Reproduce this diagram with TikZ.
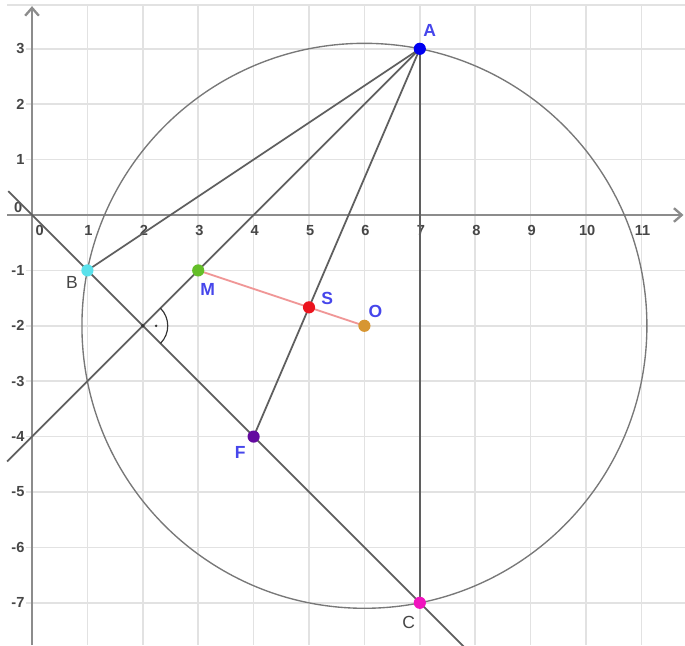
\documentclass[tikz,border=0pt]{standalone}
\usepackage{fontspec}
\setmainfont{Liberation Sans}
\usetikzlibrary{arrows.meta}
\definecolor{gridc}{RGB}{226,226,226}
\definecolor{axisc}{RGB}{140,140,140}
\definecolor{linec}{RGB}{95,95,95}
\definecolor{circc}{RGB}{120,120,120}
\definecolor{tickc}{RGB}{70,70,70}
\definecolor{lblblue}{RGB}{70,70,235}
\definecolor{ptA}{RGB}{0,0,240}
\definecolor{ptB}{RGB}{90,225,235}
\definecolor{ptC}{RGB}{240,20,190}
\definecolor{ptM}{RGB}{100,190,40}
\definecolor{ptS}{RGB}{235,20,30}
\definecolor{ptO}{RGB}{215,150,50}
\definecolor{ptF}{RGB}{100,10,160}
\definecolor{redseg}{RGB}{240,150,150}
\tikzset{
  gridline/.style={draw=gridc, line width=0.8pt},
  axisline/.style={draw=axisc, line width=1.2pt},
  geo/.style={draw=linec, line width=0.9pt},
  circ/.style={draw=circc, line width=0.7pt},
  ticklbl/.style={text=tickc, font=\fontsize{7.5}{8}\selectfont\bfseries, inner sep=0pt},
  dot/.style={circle, inner sep=0pt, minimum size=0.22cm},
  bluelbl/.style={text=lblblue, font=\fontsize{9}{10}\selectfont\bfseries, inner sep=0pt},
  graylbl/.style={text=tickc, font=\fontsize{9}{10}\selectfont, inner sep=0pt}
}
\begin{document}
\begin{tikzpicture}[x=1cm,y=1cm]
\useasboundingbox (-0.578,-7.762) rectangle (11.787,3.881);
\clip (-0.578,-7.762) rectangle (11.787,3.881);
% grid
\foreach \x in {1,...,11} \draw[gridline] (\x,-7.762) -- (\x,3.79);
\foreach \y in {-7,...,-1,1,2,3} \draw[gridline] (-0.1,\y) -- (11.787,\y);
\draw[gridline] (-0.45,3.79) -- (11.787,3.79);
% axes
\coordinate (xl) at (-0.45,0);
\coordinate (xr) at (11.76,0);
\coordinate (yb) at (0,-7.762);
\coordinate (yt) at (0,3.77);
\draw[axisline, -{Straight Barb[length=4pt,width=7pt]}] (xl) -- (xr);
\draw[axisline, -{Straight Barb[length=4pt,width=7pt]}] (yb) -- (yt);
% tick labels
\foreach \x in {1,...,11} \node[ticklbl] (tx\x) at (\x+0.02,-0.28) {\x};
\node[ticklbl] (tx0) at (0.14,-0.28) {0};
\node[ticklbl] (ty0) at (-0.25,0.13) {0};
\foreach \y in {1,2,3} \node[ticklbl, anchor=east] (ty\y) at (-0.13,\y) {\y};
\foreach \y in {1,...,7} \node[ticklbl, anchor=east] (tym\y) at (-0.13,-\y) {-\y};
% points
\coordinate (A) at (7,3);
\coordinate (B) at (1,-1);
\coordinate (C) at (7,-7);
\coordinate (M) at (3,-1);
\coordinate (O) at (6,-2);
\coordinate (S) at (5,-5/3);
\coordinate (F) at (4,-4);
\coordinate (P) at (2,-2);
\coordinate (L1) at (-0.45,-4.45);
\coordinate (L2) at (-0.43,0.43);
\coordinate (L3) at (7.9,-7.9);
% circle
\draw[circ] (O) circle ({sqrt(26)});
% lines
\draw[geo] (A) -- (B);
\draw[geo] (A) -- (L1);
\draw[geo] (A) -- (F);
\draw[geo] (A) -- (C);
\draw[geo] (L2) -- (L3);
\draw[draw=redseg, line width=0.9pt] (M) -- (O);
% right angle marker
\draw[draw=black!80, line width=0.6pt] (P) ++(-45:0.45) arc[start angle=-45, end angle=45, radius=0.45];
\fill[black!80] (P) ++(0.24,0) circle (0.025);
\fill[black!80] (P) circle (0.035);
% dots
\node[dot, fill=ptA] (dA) at (A) {};
\node[dot, fill=ptB] (dB) at (B) {};
\node[dot, fill=ptC] (dC) at (C) {};
\node[dot, fill=ptM] (dM) at (M) {};
\node[dot, fill=ptS] (dS) at (S) {};
\node[dot, fill=ptO] (dO) at (O) {};
\node[dot, fill=ptF] (dF) at (F) {};
% labels
\node[bluelbl] (lA) at (7.18,3.33) {A};
\node[graylbl] (lB) at (0.72,-1.22) {B};
\node[graylbl] (lC) at (6.8,-7.35) {C};
\node[bluelbl] (lM) at (3.17,-1.35) {M};
\node[bluelbl] (lS) at (5.33,-1.5) {S};
\node[bluelbl] (lO) at (6.2,-1.74) {O};
\node[bluelbl] (lF) at (3.76,-4.28) {F};
\end{tikzpicture}
\end{document}
